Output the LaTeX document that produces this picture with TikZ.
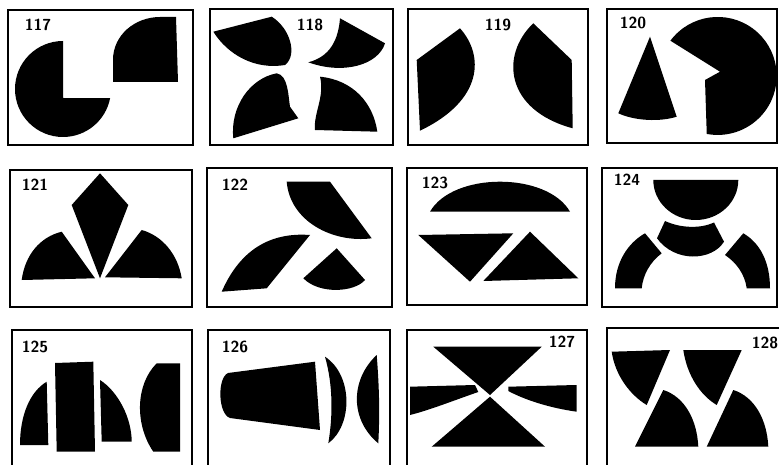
\documentclass[tikz,border=0pt]{standalone}
\begin{document}
\begin{tikzpicture}[x=1pt,y=1pt,yscale=-1,
  frame/.style={draw=black,line width=2.2pt},
  lbl/.style={font=\sffamily\bfseries\fontsize{16}{16}\selectfont,inner sep=0pt},
  blob/.style={fill=black}]
\useasboundingbox (0,0) rectangle (779,465);
\clip (0,0) rectangle (779,465);
% frames
\draw[frame] (8,10) rectangle (193,145);
\draw[frame] (210,9) rectangle (393,145);
\draw[frame] (408,9) rectangle (588,145);
\draw[frame] (607,9) rectangle (777,143);
\draw[frame] (10,170) rectangle (192,307);
\draw[frame] (207,168) rectangle (392,307);
\draw[frame] (407,168) rectangle (587,305);
\draw[frame] (602,168) rectangle (777,307);
\draw[frame] (12,330) rectangle (192,475);
\draw[frame] (208,330) rectangle (390,475);
\draw[frame] (407,330) rectangle (587,475);
\draw[frame] (607,328) rectangle (790,475);
% labels
\node[lbl] (l117) at (38,25) {117};
\node[lbl] (l118) at (310,25) {118};
\node[lbl] (l119) at (498,25) {119};
\node[lbl] (l120) at (633,23) {120};
\node[lbl] (l121) at (35,185) {121};
\node[lbl] (l122) at (235,185) {122};
\node[lbl] (l123) at (435,183) {123};
\node[lbl] (l124) at (627,180) {124};
\node[lbl] (l125) at (35,347) {125};
\node[lbl] (l126) at (235,347) {126};
\node[lbl] (l127) at (562,342) {127};
\node[lbl] (l128) at (765,343) {128};
% 117
\fill[blob] (63,98) -- (63,41) arc[start angle=-90,end angle=-349,radius=48] -- cycle;
\fill[blob] (113,82) -- (113,60) .. controls (113,35) and (135,17) .. (160,17) -- (176,17) -- (178,82) -- cycle;
% 118
\fill[blob] (213.3,31.7) -- (271.7,16.7) .. controls (290,28) and (298,55) .. (285,65) .. controls (255,70) and (228,55) .. (213.3,31.7) -- cycle;
\fill[blob] (340,18.3) -- (385,43.3) .. controls (378.3,65) and (343.3,75) .. (308.3,62.3) .. controls (330,56.7) and (338.3,40) .. (340,18.3) -- cycle;
\fill[blob] (233.3,138.3) .. controls (230,106.7) and (250,78.3) .. (276.7,73.3) .. controls (288.3,75) and (288.3,96.7) .. (290,106.7) -- (298.3,118.3) -- cycle;
\fill[blob] (320,76.7) .. controls (353.3,80) and (373.3,103.3) .. (377.3,131.7) -- (315,130) .. controls (313.3,113.3) and (325,96.7) .. (320,76.7) -- cycle;
% 119
\fill[blob] (416.7,60) -- (460,28.3) .. controls (484,55) and (484,100) .. (420,130.7) -- cycle;
\fill[blob] (533.3,23.3) -- (571.7,60) -- (572.7,128.3) .. controls (505,110) and (500,55) .. (533.3,23.3) -- cycle;
% 120
\fill[blob] (650,36.7) -- (618.3,113.3) .. controls (635,121) and (660,122) .. (676.7,116.7) -- cycle;
\fill[blob] (720,71.7) -- (670.4,40.7) arc[start angle=-143.3,end angle=100.7,radius=59] -- (705,80) -- cycle;
% 121
\fill[blob] (100,173.3) -- (128.3,205) -- (100,278.3) -- (71.7,205) -- cycle;
\fill[blob] (61.7,231.7) -- (95,278.3) -- (21.7,280) .. controls (25,255) and (40,237) .. (61.7,231.7) -- cycle;
\fill[blob] (141.7,230) -- (105,277.3) -- (181.7,278.3) .. controls (178,255) and (163,236) .. (141.7,230) -- cycle;
% 122
\fill[blob] (286.7,181.7) -- (330,181.7) -- (371.7,238.3) .. controls (333.3,243.3) and (290,221.7) .. (286.7,181.7) -- cycle;
\fill[blob] (221.7,291.7) .. controls (240,250) and (270,232) .. (310,235) -- (266.7,288.3) -- cycle;
\fill[blob] (336.7,248.3) -- (365,280) .. controls (355,292) and (320,295) .. (303.3,278.3) -- cycle;
% 123
\fill[blob] (430,211.7) .. controls (453,171.7) and (547,171.7) .. (570,211.7) -- cycle;
\fill[blob] (418.3,235) -- (513.3,233.3) -- (470,281.7) -- cycle;
\fill[blob] (530,231.7) -- (578.3,278.3) -- (483.3,281) -- cycle;
% 124
\fill[blob] (653.3,180) -- (738.3,180) arc[start angle=0,end angle=180,x radius=42.5,y radius=40] -- cycle;
\fill[blob] (665,221) .. controls (680,228) and (700,229) .. (714,222.5) -- (724,241.7) .. controls (712,261) and (675,263) .. (657,238.3) -- cycle;
\fill[blob] (615,288.3) .. controls (615,262) and (628,243) .. (645,233.3) -- (661.7,253.3) .. controls (650,262) and (643,275) .. (641.7,288.3) -- cycle;
\fill[blob] (743.3,233.3) -- (725,255) .. controls (737,263) and (745,275) .. (746.7,288.3) -- (770,288.3) .. controls (770,262) and (760,243) .. (743.3,233.3) -- cycle;
% 125
\fill[blob] (46.7,381.7) -- (48.3,445) -- (20,445) .. controls (20,415) and (30,391.7) .. (46.7,381.7) -- cycle;
\fill[blob] (55,363) -- (93.3,361.7) -- (95,451.7) -- (56.7,451.7) -- cycle;
\fill[blob] (100,380) .. controls (118.3,391.7) and (131.7,418.3) .. (131.7,441.7) -- (101.7,441.7) -- cycle;
\fill[blob] (156.7,363.3) -- (180,363.3) -- (180,451.7) -- (153.3,451.7) .. controls (135,425) and (135,385) .. (156.7,363.3) -- cycle;
% 126
\fill[blob] (228,373) -- (315,361.7) -- (320,430) -- (230,418) .. controls (218,414) and (217,378) .. (228,373) -- cycle;
\fill[blob] (325,356.7) .. controls (353,375) and (353,425) .. (328.3,443.3) .. controls (333,415) and (333,385) .. (325,356.7) -- cycle;
\fill[blob] (376.7,355) .. controls (350,380) and (350,420) .. (378.3,443.3) .. controls (380,410) and (379,385) .. (376.7,355) -- cycle;
% 127
\fill[blob] (433.3,346.7) -- (541.7,346.7) -- (490,395) -- cycle;
\fill[blob] (490,396.7) -- (545,446.7) -- (431.7,446.7) -- cycle;
\fill[blob] (410,386.7) -- (475,385) -- (478.3,392) .. controls (455,400) and (430,410) .. (410,415) -- cycle;
\fill[blob] (508.3,386.7) -- (576.7,385) -- (576.7,411.7) .. controls (550,408) and (525,400) .. (508.3,391) -- cycle;
% 128
\fill[blob] (611.7,351.7) -- (670,350) -- (646.7,405) .. controls (630,395) and (615,375) .. (611.7,351.7) -- cycle;
\fill[blob] (683.3,350) -- (741.7,350) -- (716.7,405) .. controls (700,395) and (687,375) .. (683.3,350) -- cycle;
\fill[blob] (663.3,390) -- (635,446.7) -- (698.3,446.7) .. controls (697,420) and (685,397) .. (663.3,390) -- cycle;
\fill[blob] (733.3,390) -- (706.7,446.7) -- (768.3,446.7) .. controls (767,420) and (755,397) .. (733.3,390) -- cycle;
\end{tikzpicture}
\end{document}
